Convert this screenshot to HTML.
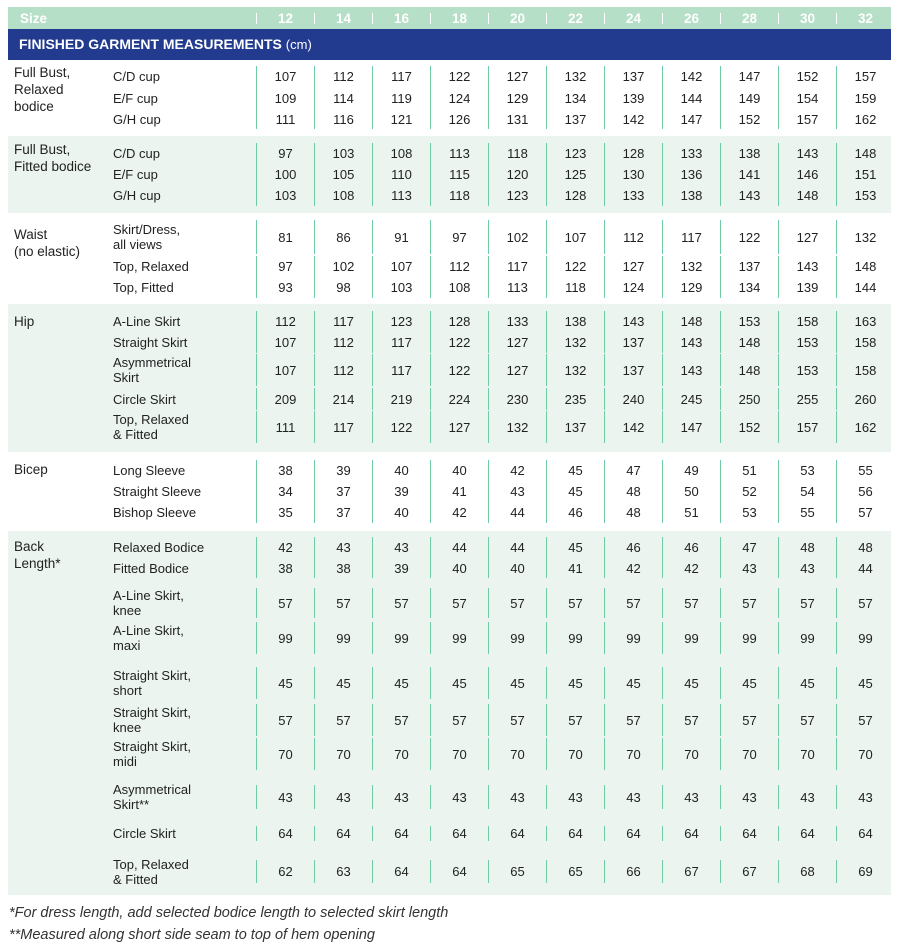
<!DOCTYPE html><html><head><meta charset="utf-8"><style>
body{margin:0;width:900px;height:947px;background:#fff;position:relative;font-family:"Liberation Sans",sans-serif;color:#222;overflow:hidden}
.a{position:absolute}
.hd{left:8px;top:7px;width:883px;height:22px;background:#b6dfc7;color:#fff;font-weight:bold;font-size:13.5px}
.hd span{position:absolute;top:4px;width:57px;text-align:center}
.hd i{position:absolute;top:6px;width:1px;height:11px;background:#fff}
.bl{left:8px;top:29px;width:883px;height:31px;background:#233b8e;color:#fff;font-size:14px;font-weight:bold;line-height:31px;padding-left:11px;box-sizing:border-box}
.bl small{font-weight:normal;font-size:13px}
.g{left:8px;width:883px;background:#ebf4ef}
.m{left:14px;font-size:13.5px;line-height:17px}
.r{position:absolute;left:113px;display:flex;align-items:center;font-size:13px}
.r b{font-weight:normal;width:143px;line-height:15px}
.r span{width:57px;border-left:1px solid #6fcca3;text-align:center;height:100%;display:flex;align-items:center;justify-content:center}
.f{left:9px;font-style:italic;font-size:14.5px;color:#333}
</style></head><body>
<div class="a hd"><span style="left:12px;width:auto">Size</span>
<i style="left:248px"></i><span style="left:249px">12</span><i style="left:306px"></i><span style="left:307px">14</span><i style="left:364px"></i><span style="left:365px">16</span><i style="left:422px"></i><span style="left:423px">18</span><i style="left:480px"></i><span style="left:481px">20</span><i style="left:538px"></i><span style="left:539px">22</span><i style="left:596px"></i><span style="left:597px">24</span><i style="left:654px"></i><span style="left:655px">26</span><i style="left:712px"></i><span style="left:713px">28</span><i style="left:770px"></i><span style="left:771px">30</span><i style="left:828px"></i><span style="left:829px">32</span></div>
<div class="a bl">FINISHED GARMENT MEASUREMENTS <small>(cm)</small></div>
<div class="a g" style="top:136px;height:77px"></div>
<div class="a g" style="top:304px;height:148px"></div>
<div class="a g" style="top:531px;height:364px"></div>

<div class="a m" style="top:64px">Full Bust,<br>Relaxed<br>bodice</div>
<div class="a m" style="top:141px">Full Bust,<br>Fitted bodice</div>
<div class="a m" style="top:226px">Waist<br>(no elastic)</div>
<div class="a m" style="top:313px">Hip</div>
<div class="a m" style="top:461px">Bicep</div>
<div class="a m" style="top:538px">Back<br>Length*</div>

<div class="r" style="top:66px;height:21px"><b>C/D cup</b><span>107</span><span>112</span><span>117</span><span>122</span><span>127</span><span>132</span><span>137</span><span>142</span><span>147</span><span>152</span><span>157</span></div>
<div class="r" style="top:87px;height:22px"><b>E/F cup</b><span>109</span><span>114</span><span>119</span><span>124</span><span>129</span><span>134</span><span>139</span><span>144</span><span>149</span><span>154</span><span>159</span></div>
<div class="r" style="top:109px;height:20px"><b>G/H cup</b><span>111</span><span>116</span><span>121</span><span>126</span><span>131</span><span>137</span><span>142</span><span>147</span><span>152</span><span>157</span><span>162</span></div>

<div class="r" style="top:143px;height:21px"><b>C/D cup</b><span>97</span><span>103</span><span>108</span><span>113</span><span>118</span><span>123</span><span>128</span><span>133</span><span>138</span><span>143</span><span>148</span></div>
<div class="r" style="top:164px;height:21px"><b>E/F cup</b><span>100</span><span>105</span><span>110</span><span>115</span><span>120</span><span>125</span><span>130</span><span>136</span><span>141</span><span>146</span><span>151</span></div>
<div class="r" style="top:185px;height:21px"><b>G/H cup</b><span>103</span><span>108</span><span>113</span><span>118</span><span>123</span><span>128</span><span>133</span><span>138</span><span>143</span><span>148</span><span>153</span></div>

<div class="r" style="top:220px;height:34px"><b>Skirt/Dress,<br>all views</b><span>81</span><span>86</span><span>91</span><span>97</span><span>102</span><span>107</span><span>112</span><span>117</span><span>122</span><span>127</span><span>132</span></div>
<div class="r" style="top:256px;height:21px"><b>Top, Relaxed</b><span>97</span><span>102</span><span>107</span><span>112</span><span>117</span><span>122</span><span>127</span><span>132</span><span>137</span><span>143</span><span>148</span></div>
<div class="r" style="top:277px;height:21px"><b>Top, Fitted</b><span>93</span><span>98</span><span>103</span><span>108</span><span>113</span><span>118</span><span>124</span><span>129</span><span>134</span><span>139</span><span>144</span></div>

<div class="r" style="top:311px;height:21px"><b>A-Line Skirt</b><span>112</span><span>117</span><span>123</span><span>128</span><span>133</span><span>138</span><span>143</span><span>148</span><span>153</span><span>158</span><span>163</span></div>
<div class="r" style="top:332px;height:21px"><b>Straight Skirt</b><span>107</span><span>112</span><span>117</span><span>122</span><span>127</span><span>132</span><span>137</span><span>143</span><span>148</span><span>153</span><span>158</span></div>
<div class="r" style="top:354px;height:32px"><b>Asymmetrical<br>Skirt</b><span>107</span><span>112</span><span>117</span><span>122</span><span>127</span><span>132</span><span>137</span><span>143</span><span>148</span><span>153</span><span>158</span></div>
<div class="r" style="top:388px;height:22px"><b>Circle Skirt</b><span>209</span><span>214</span><span>219</span><span>224</span><span>230</span><span>235</span><span>240</span><span>245</span><span>250</span><span>255</span><span>260</span></div>
<div class="r" style="top:411px;height:32px"><b>Top, Relaxed<br>&amp; Fitted</b><span>111</span><span>117</span><span>122</span><span>127</span><span>132</span><span>137</span><span>142</span><span>147</span><span>152</span><span>157</span><span>162</span></div>

<div class="r" style="top:460px;height:21px"><b>Long Sleeve</b><span>38</span><span>39</span><span>40</span><span>40</span><span>42</span><span>45</span><span>47</span><span>49</span><span>51</span><span>53</span><span>55</span></div>
<div class="r" style="top:481px;height:21px"><b>Straight Sleeve</b><span>34</span><span>37</span><span>39</span><span>41</span><span>43</span><span>45</span><span>48</span><span>50</span><span>52</span><span>54</span><span>56</span></div>
<div class="r" style="top:502px;height:21px"><b>Bishop Sleeve</b><span>35</span><span>37</span><span>40</span><span>42</span><span>44</span><span>46</span><span>48</span><span>51</span><span>53</span><span>55</span><span>57</span></div>

<div class="r" style="top:537px;height:21px"><b>Relaxed Bodice</b><span>42</span><span>43</span><span>43</span><span>44</span><span>44</span><span>45</span><span>46</span><span>46</span><span>47</span><span>48</span><span>48</span></div>
<div class="r" style="top:558px;height:20px"><b>Fitted Bodice</b><span>38</span><span>38</span><span>39</span><span>40</span><span>40</span><span>41</span><span>42</span><span>42</span><span>43</span><span>43</span><span>44</span></div>
<div class="r" style="top:588px;height:30px"><b>A-Line Skirt,<br>knee</b><span>57</span><span>57</span><span>57</span><span>57</span><span>57</span><span>57</span><span>57</span><span>57</span><span>57</span><span>57</span><span>57</span></div>
<div class="r" style="top:622px;height:32px"><b>A-Line Skirt,<br>maxi</b><span>99</span><span>99</span><span>99</span><span>99</span><span>99</span><span>99</span><span>99</span><span>99</span><span>99</span><span>99</span><span>99</span></div>
<div class="r" style="top:667px;height:32px"><b>Straight Skirt,<br>short</b><span>45</span><span>45</span><span>45</span><span>45</span><span>45</span><span>45</span><span>45</span><span>45</span><span>45</span><span>45</span><span>45</span></div>
<div class="r" style="top:704px;height:32px"><b>Straight Skirt,<br>knee</b><span>57</span><span>57</span><span>57</span><span>57</span><span>57</span><span>57</span><span>57</span><span>57</span><span>57</span><span>57</span><span>57</span></div>
<div class="r" style="top:738px;height:32px"><b>Straight Skirt,<br>midi</b><span>70</span><span>70</span><span>70</span><span>70</span><span>70</span><span>70</span><span>70</span><span>70</span><span>70</span><span>70</span><span>70</span></div>
<div class="r" style="top:785px;height:24px"><b>Asymmetrical<br>Skirt**</b><span>43</span><span>43</span><span>43</span><span>43</span><span>43</span><span>43</span><span>43</span><span>43</span><span>43</span><span>43</span><span>43</span></div>
<div class="r" style="top:826px;height:15px"><b>Circle Skirt</b><span>64</span><span>64</span><span>64</span><span>64</span><span>64</span><span>64</span><span>64</span><span>64</span><span>64</span><span>64</span><span>64</span></div>
<div class="r" style="top:860px;height:23px"><b>Top, Relaxed<br>&amp; Fitted</b><span>62</span><span>63</span><span>64</span><span>64</span><span>65</span><span>65</span><span>66</span><span>67</span><span>67</span><span>68</span><span>69</span></div>

<div class="a f" style="top:905px">*For dress length, add selected bodice length to selected skirt length</div>
<div class="a f" style="top:927px">**Measured along short side seam to top of hem opening</div>
</body></html>
